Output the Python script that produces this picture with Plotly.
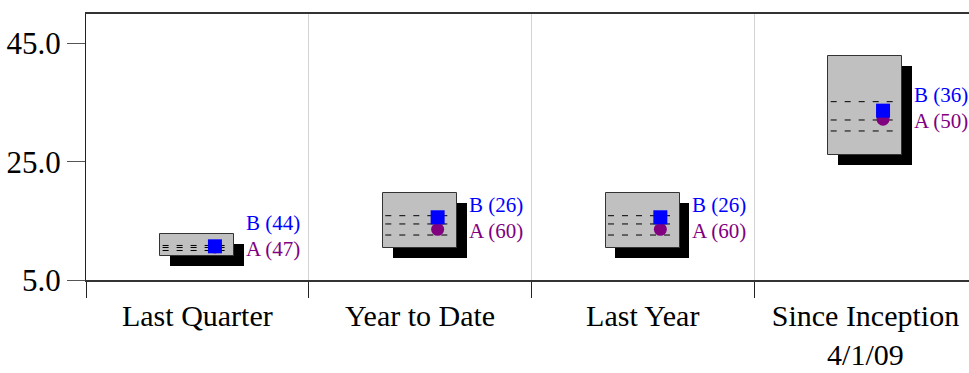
import plotly.graph_objects as go

# Periods and the range (percentile box) for each
categories = ["Last Quarter", "Year to Date", "Last Year", "Since Inception<br>4/1/09"]
box_low = [9.06, 10.41, 10.41, 26.15]
box_high = [12.78, 19.72, 19.72, 42.90]
quartile_upper = [10.84, 15.88, 15.88, 35.17]
quartile_mid = [10.50, 14.48, 14.48, 32.07]
quartile_lower = [9.99, 12.61, 12.61, 30.21]

# Portfolio returns and their percentile ranks
b_values = [10.70, 15.61, 15.61, 33.65]
a_values = [10.60, 13.58, 13.58, 32.20]
b_ranks = [44, 26, 26, 36]
a_ranks = [47, 60, 60, 50]

y_ticks = [5.0, 25.0, 45.0]

FONT = "Liberation Serif, Times New Roman, serif"
BLUE = "#0000ff"
PURPLE = "#800080"

pos = list(range(len(categories)))
half_w = 0.166
shadow_dx = 0.043
shadow_dy = 1.62
marker_dx = 0.079
label_dx = 0.211

heights = [h - l for h, l in zip(box_high, box_low)]

fig = go.Figure()

# drop shadow behind each box
fig.add_trace(go.Bar(
    x=[p + shadow_dx for p in pos], y=heights, base=[l - shadow_dy for l in box_low],
    width=2 * half_w, marker=dict(color="black", line=dict(width=0)),
    hoverinfo="skip", showlegend=False))

# the range box
fig.add_trace(go.Bar(
    x=pos, y=heights, base=box_low, width=2 * half_w,
    marker=dict(color="#c0c0c0", line=dict(color="#333333", width=1)),
    showlegend=False))

# dashed quartile lines across each box
lx, ly = [], []
for p, levels in zip(pos, zip(quartile_upper, quartile_mid, quartile_lower)):
    for v in levels:
        lx += [p - half_w + 0.01, p + half_w - 0.02, None]
        ly += [v, v, None]
fig.add_trace(go.Scatter(x=lx, y=ly, mode="lines",
                         line=dict(color="black", width=1, dash="6px,8px"),
                         hoverinfo="skip", showlegend=False))

fig.add_trace(go.Scatter(x=[p + marker_dx for p in pos], y=a_values, mode="markers",
                         marker=dict(symbol="circle", size=13, color=PURPLE),
                         name="A", showlegend=False))
fig.add_trace(go.Scatter(x=[p + marker_dx for p in pos], y=b_values, mode="markers",
                         marker=dict(symbol="square", size=14, color=BLUE),
                         name="B", showlegend=False))

for p, av, br, ar in zip(pos, a_values, b_ranks, a_ranks):
    fig.add_annotation(x=p + label_dx, y=av, text=f"A ({ar})", showarrow=False,
                       xanchor="left", yanchor="middle", yshift=-2,
                       font=dict(family=FONT, size=21, color=PURPLE))
    fig.add_annotation(x=p + label_dx, y=av, text=f"B ({br})", showarrow=False,
                       xanchor="left", yanchor="middle", yshift=24,
                       font=dict(family=FONT, size=21, color=BLUE))

fig.update_layout(
    width=969, height=373,
    margin=dict(l=86, r=0, t=14, b=93, autoexpand=False),
    paper_bgcolor="white", plot_bgcolor="white",
    barmode="overlay", bargap=0,
    font=dict(family=FONT, size=30, color="black"),
    showlegend=False,
)

fig.update_xaxes(
    range=[-0.5, 3.465], tickvals=pos, ticktext=categories,
    ticks="outside", ticklen=8, tickcolor="rgba(0,0,0,0)",
    showgrid=False, zeroline=False, automargin=False,
    showline=True, linecolor="#333333", linewidth=2, mirror=True,
    minor=dict(tickvals=[p - 0.5 for p in pos], ticks="outside", ticklen=16,
               tickcolor="#222222", tickwidth=1,
               showgrid=True, gridcolor="#d3d3d3", gridwidth=1),
    tickfont=dict(family=FONT, size=30, color="black"),
)
fig.update_yaxes(
    range=[5, 50], tickvals=y_ticks, ticktext=[f"{v:.1f}" for v in y_ticks],
    ticks="outside", ticklen=18, tickcolor="#555555", tickwidth=1,
    showgrid=False, zeroline=False, automargin=False,
    showline=True, linecolor="#222222", linewidth=1,
    tickfont=dict(family=FONT, size=31, color="black"),
)

fig.write_html("out.html")
